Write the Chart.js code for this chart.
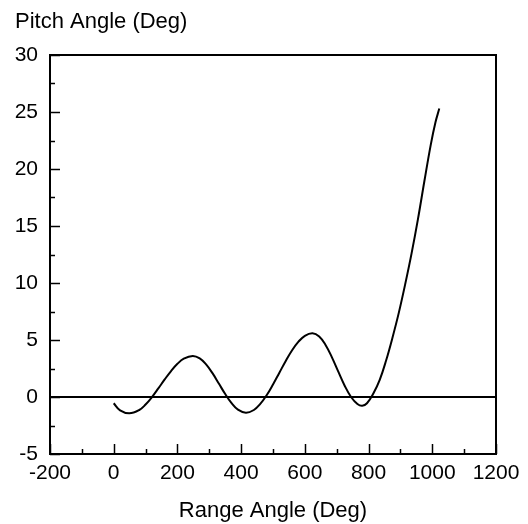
<!DOCTYPE html>
<html>
<head>
<meta charset="utf-8">
<script src="https://cdn.jsdelivr.net/npm/chart.js@4/dist/chart.umd.min.js"></script>
<style>
  body { margin: 0; background: #fff; }
  #wrap { width: 528px; height: 524px; }
</style>
</head>
<body>
<div id="wrap"><canvas id="chart" width="528" height="524"></canvas></div>
<script>
// range angle (deg) and pitch angle (deg)
var rangeAngle = [0, 20, 49, 80, 100, 120, 140, 160, 180, 200, 220, 248,
  270, 290, 310, 330, 350, 370, 390, 415,
  440, 460, 480, 500, 520, 540, 560, 580, 600, 624,
  645, 665, 685, 705, 725, 745, 765, 780,
  795, 815, 835, 855, 875, 895, 915, 935, 955, 975, 995, 1010, 1022];
var pitchAngle = [-0.55, -1.17, -1.43, -1.14, -0.66, -0.01, 0.75, 1.54, 2.28, 2.91, 3.36, 3.6,
  3.39, 2.86, 2.09, 1.18, 0.26, -0.54, -1.11, -1.38,
  -1.14, -0.61, 0.15, 1.1, 2.13, 3.16, 4.1, 4.85, 5.37, 5.59,
  5.31, 4.57, 3.48, 2.22, 0.99, 0.0, -0.61, -0.76,
  -0.55, 0.3, 1.5, 3.2, 5.2, 7.4, 9.9, 12.6, 15.6, 18.9, 22.1, 24.1, 25.3];

var xTicks = [-200, 1200, 200];   // min, max, step
var yTicks = [-5, 30, 5];

var points = rangeAngle.map(function(x, i) {
  return { x: x, y: pitchAngle[i] };
});

// frame, inward tick marks and the y title
var framePlugin = {
  id: 'frame',
  afterDraw: function(chart) {
    var ctx = chart.ctx;
    var a = chart.chartArea;
    var xs = chart.scales.x;
    var ys = chart.scales.y;
    ctx.save();
    ctx.strokeStyle = '#000';
    ctx.lineWidth = 1.5;
    // minor + major ticks on x
    for (var v = xTicks[0]; v <= xTicks[1]; v += xTicks[2] / 2) {
      var px = Math.round(xs.getPixelForValue(v)) + 0.5;
      var len = (v % xTicks[2] === 0) ? 10 : 5;
      ctx.beginPath();
      ctx.moveTo(px, a.bottom);
      ctx.lineTo(px, a.bottom - len);
      ctx.stroke();
    }
    for (var w = yTicks[0]; w <= yTicks[1]; w += yTicks[2] / 2) {
      var py = Math.round(ys.getPixelForValue(w)) + 0.5;
      var len2 = (w % yTicks[2] === 0) ? 10 : 5;
      ctx.beginPath();
      ctx.moveTo(a.left, py);
      ctx.lineTo(a.left + len2, py);
      ctx.stroke();
    }
    ctx.lineWidth = 2;
    ctx.strokeRect(a.left, a.top, a.right - a.left, a.bottom - a.top);

    ctx.fillStyle = '#000';
    ctx.font = '22px "Liberation Sans", Arial, sans-serif';
    ctx.textAlign = 'left';
    ctx.textBaseline = 'middle';
    ctx.fillText('Pitch Angle (Deg)', 15, 22);
    ctx.restore();
  }
};

var plainLabel = function(value) { return String(value); };

var ctx = document.getElementById('chart').getContext('2d');
var chart = new Chart(ctx, {
  type: 'scatter',
  data: {
    datasets: [{
      data: points,
      showLine: true,
      borderColor: '#000',
      borderWidth: 2,
      pointRadius: 0,
      tension: 0.4
    }]
  },
  options: {
    responsive: false,
    animation: false,
    layout: { padding: { left: 0, right: 32, top: 55, bottom: 0 } },
    plugins: {
      legend: { display: false },
      tooltip: { enabled: false }
    },
    scales: {
      x: {
        type: 'linear',
        min: xTicks[0],
        max: xTicks[1],
        ticks: {
          stepSize: xTicks[2],
          color: '#000',
          padding: 7,
          maxRotation: 0,
          callback: plainLabel,
          font: { family: '"Liberation Sans", Arial, sans-serif', size: 21, lineHeight: 1.2 }
        },
        grid: { display: false, drawTicks: false },
        border: { display: false },
        title: {
          display: true,
          text: 'Range Angle (Deg)',
          color: '#000',
          padding: { top: 0, bottom: 2 },
          font: { family: '"Liberation Sans", Arial, sans-serif', size: 22, lineHeight: 1 }
        },
        afterFit: function(scale) { scale.height = 70; }
      },
      y: {
        min: yTicks[0],
        max: yTicks[1],
        ticks: {
          stepSize: yTicks[2],
          color: '#000',
          padding: 12,
          callback: plainLabel,
          font: { family: '"Liberation Sans", Arial, sans-serif', size: 21, lineHeight: 1.2 }
        },
        grid: {
          drawTicks: false,
          lineWidth: 2,
          color: function(c) {
            return (c.tick && c.tick.value === 0) ? '#000' : 'rgba(0,0,0,0)';
          }
        },
        border: { display: false },
        afterFit: function(scale) { scale.width = 50; }
      }
    }
  },
  plugins: [framePlugin]
});
</script>
</body>
</html>
